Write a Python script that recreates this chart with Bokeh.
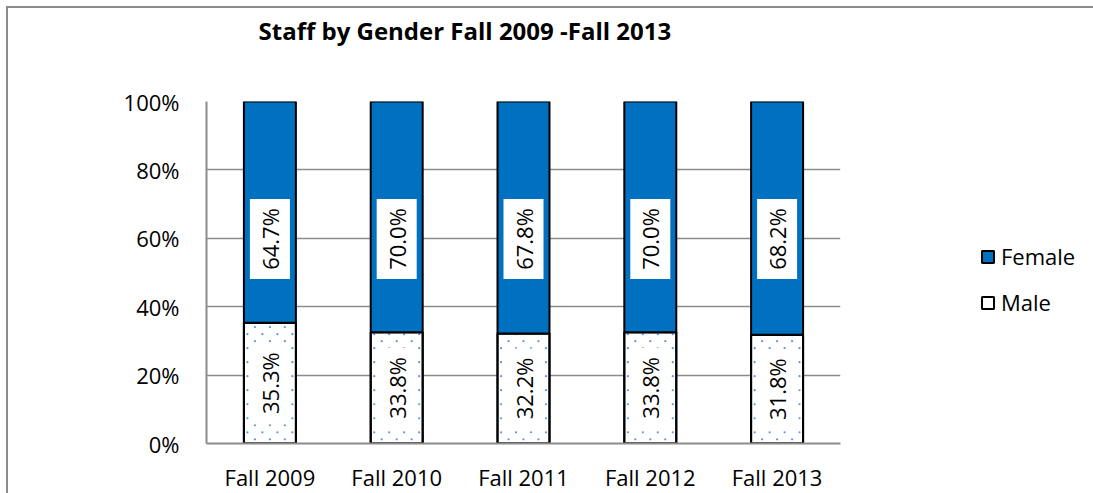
import numpy as np
from bokeh.plotting import figure
from bokeh.models import (ColumnDataSource, FactorRange, Range1d, NumeralTickFormatter,
                          Legend, LegendItem, FixedTicker, Title)
from bokeh.core.properties import value
from bokeh.embed import file_html
from bokeh.resources import INLINE

# ---- data ----
categories = ["Fall 2009", "Fall 2010", "Fall 2011", "Fall 2012", "Fall 2013"]
male_pct = [35.3, 33.8, 32.2, 33.8, 31.8]
female_pct = [64.7, 70.0, 67.8, 70.0, 68.2]
y_ticks = [0, 0.2, 0.4, 0.6, 0.8, 1.0]

FONT = "Open Sans"
BLUE = "#0070C0"
GRAY = "#8c8c8c"
BAR_W = 0.41

male = np.array(male_pct)
female = np.array(female_pct)
total = male + female
male_frac = male / total  # 100% stacked normalisation

src = ColumnDataSource(dict(
    x=categories,
    m_bottom=np.zeros(len(categories)),
    m_top=male_frac,
    f_bottom=male_frac,
    f_top=np.ones(len(categories)),
    m_label=[f"{v:.1f}%" for v in male_pct],
    f_label=[f"{v:.1f}%" for v in female_pct],
    m_y=male_frac / 2,
    f_y=np.full(len(categories), 0.598),
))

# dotted fill texture for the Male segments (decoration inside each bar's extent)
dx, dy = 0.118, 0.0205
dot_x, dot_y = [], []
for cat, top in zip(categories, male_frac):
    j = 0
    while (j + 0.6) * dy < top:
        offs = [-dx, 0, dx] if j % 2 == 0 else [-1.5 * dx, -0.5 * dx, 0.5 * dx, 1.5 * dx]
        for o in offs:
            dot_x.append((cat, o))
            dot_y.append((j + 0.6) * dy)
        j += 1
dots = ColumnDataSource(dict(x=dot_x, y=dot_y))

p = figure(x_range=FactorRange(*categories), y_range=Range1d(0, 1),
           frame_width=634, frame_height=342, output_backend="svg", toolbar_location=None,
           min_border_left=198, min_border_right=252, min_border_top=93,
           min_border_bottom=48, title="Staff by Gender Fall 2009 -Fall 2013")
p.styles = {"margin-left": "6px", "margin-top": "6px",
            "border-left": f"2px solid {GRAY}", "border-top": f"2px solid {GRAY}"}
p.outline_line_color = None
p.background_fill_color = "white"
p.border_fill_color = "white"

# spacer between the title and the plot area
p.add_layout(Title(text=" ", text_font_size="46px", standoff=0), "above")

p.title.text_font = FONT
p.title.text_font_size = "24px"
p.title.text_font_style = "bold"
p.title.text_color = "black"
p.title.align = "left"
p.title.offset = 52
p.title.standoff = 2

male_r = p.vbar(x="x", bottom="m_bottom", top="m_top", width=BAR_W, source=src,
                fill_color="white", line_color="black", line_width=2)
p.scatter(x="x", y="y", source=dots, size=2.2, fill_color="#5f93dc", line_color=None)
p.vbar(x="x", bottom="m_bottom", top="m_top", width=BAR_W, source=src,
       fill_color=None, line_color="black", line_width=2)
female_r = p.vbar(x="x", bottom="f_bottom", top="f_top", width=BAR_W, source=src,
                  fill_color=BLUE, line_color="black", line_width=2)

for col_y, col_t in (("f_y", "f_label"), ("m_y", "m_label")):
    p.rect(x="x", y=col_y, width=40, height=80, width_units="screen",
           height_units="screen", source=src, fill_color="white", line_color=None)
    p.text(x="x", y=col_y, text=col_t, source=src, angle=np.pi / 2,
           text_align="center", text_baseline="middle",
           text_font=value(FONT), text_font_size="22px", text_color="black")

# axes
p.yaxis.ticker = FixedTicker(ticks=y_ticks)
p.yaxis.formatter = NumeralTickFormatter(format="0%")
for ax in (p.xaxis[0], p.yaxis[0]):
    ax.axis_line_color = GRAY
    ax.axis_line_width = 2
    ax.major_tick_line_color = None
    ax.minor_tick_line_color = None
    ax.major_label_text_font = FONT
    ax.major_label_text_font_size = "22px"
    ax.major_label_text_color = "black"
p.yaxis.major_label_standoff = 21
p.xaxis.major_label_standoff = 12

p.xgrid.grid_line_color = None
p.ygrid.grid_line_color = GRAY
p.ygrid.grid_line_width = 1.5

legend = Legend(items=[LegendItem(label="Female", renderers=[female_r]),
                       LegendItem(label="Male", renderers=[male_r])],
                location=(140, 126))
legend.border_line_color = None
legend.background_fill_alpha = 0
legend.label_text_font = FONT
legend.label_text_font_size = "22px"
legend.label_text_color = "black"
legend.glyph_width = 15
legend.glyph_height = 15
legend.spacing = 16
legend.label_standoff = 6
p.add_layout(legend, "right")

open("out.html", "w").write(file_html(p, INLINE))
